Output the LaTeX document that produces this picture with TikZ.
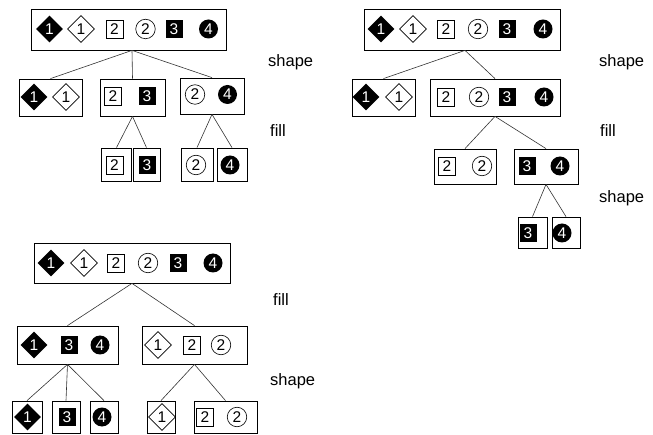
\documentclass[tikz,border=0pt]{standalone}
\usepackage{fontspec}
\setmainfont{Liberation Sans}
\usetikzlibrary{shapes.geometric,calc}
\tikzset{
 bx/.style={draw, line width=0.8pt, inner sep=0pt},
 sym/.style={inner sep=0pt, font=\fontsize{15.5}{15.5}\selectfont},
 bd/.style={sym, diamond, fill=black, text=white, minimum width=27pt, minimum height=27pt},
 wd/.style={sym, diamond, draw, line width=0.6pt, minimum width=27pt, minimum height=27pt},
 sq/.style={sym, rectangle, draw, line width=0.7pt, minimum width=17pt, minimum height=18pt},
 ci/.style={sym, circle, draw, line width=0.6pt, minimum size=19.5pt},
 bs/.style={sym, rectangle, fill=black, text=white, minimum width=17pt, minimum height=18pt},
 bc/.style={sym, circle, fill=black, text=white, minimum size=19pt},
 lbl/.style={anchor=base west, inner sep=0pt, font=\fontsize{16.5}{16.5}\selectfont},
 conn/.style={line width=0.6pt, black!80},
}
\begin{document}
\begin{tikzpicture}[x=1pt,y=-1pt]
\useasboundingbox (0,0) rectangle (653,435);

% ---------- Tree 1 ----------
\node[bx, minimum width=195pt, minimum height=41pt] (r1) at (128.5,29.5) {};
\node[bd] (r1a) at (49.5,29) {1};
\node[wd] (r1b) at (81,29) {1};
\node[sq] (r1c) at (114.5,29) {2};
\node[ci] (r1d) at (145.5,29) {2};
\node[bs] (r1e) at (174,29) {3};
\node[bc] (r1f) at (208.5,29) {4};

\node[bx, minimum width=63pt, minimum height=37pt] (c11) at (50.5,97.5) {};
\node[bd] (c11a) at (34,97) {1};
\node[wd] (c11b) at (66,97) {1};
\node[bx, minimum width=65pt, minimum height=37pt] (c12) at (132.5,97.5) {};
\node[sq] (c12a) at (113,96) {2};
\node[bs] (c12b) at (147,96) {3};
\node[bx, minimum width=64pt, minimum height=36pt] (c13) at (212,96) {};
\node[ci] (c13a) at (195,94.5) {2};
\node[bc] (c13b) at (227.5,94.5) {4};

\node[bx, minimum width=30pt, minimum height=33pt] (g121) at (116.5,164.5) {};
\node[sq] (g121a) at (114.5,165) {2};
\node[bx, minimum width=27pt, minimum height=33pt] (g122) at (146.5,164.5) {};
\node[bs] (g122a) at (147,165) {3};
\node[bx, minimum width=32pt, minimum height=33pt] (g131) at (197,164.5) {};
\node[ci] (g131a) at (196,165) {2};
\node[bx, minimum width=30pt, minimum height=33pt] (g132) at (232,164.5) {};
\node[bc] (g132a) at (230,165) {4};

\draw[conn] ($(r1.south)+(3.5,0)$) -- (c11.north);
\draw[conn] ($(r1.south)+(3.5,0)$) -- (c12.north);
\draw[conn] ($(r1.south)+(3.5,0)$) -- (c13.north);
\draw[conn] (c12.south) -- (g121.north);
\draw[conn] (c12.south) -- (g122.north);
\draw[conn] (c13.south) -- (g131.north);
\draw[conn] (c13.south) -- (g132.north);

\node[lbl] (l11) at (268,67) {shape};
\node[lbl] (l12) at (270,137) {fill};

% ---------- Tree 2 ----------
\node[bx, minimum width=196pt, minimum height=41pt] (r2) at (462,29.5) {};
\node[bd] (r2a) at (381,29) {1};
\node[wd] (r2b) at (413,29) {1};
\node[sq] (r2c) at (446,29) {2};
\node[ci] (r2d) at (478,29) {2};
\node[bs] (r2e) at (507,29) {3};
\node[bc] (r2f) at (543,29) {4};

\node[bx, minimum width=63pt, minimum height=37pt] (c21) at (383.5,97.5) {};
\node[bd] (c21a) at (366,97) {1};
\node[wd] (c21b) at (399,97) {1};
\node[bx, minimum width=130pt, minimum height=37pt] (c22) at (495,97.5) {};
\node[sq] (c22a) at (446,97) {2};
\node[ci] (c22b) at (479,97) {2};
\node[bs] (c22c) at (507,97) {3};
\node[bc] (c22d) at (544,97) {4};

\node[bx, minimum width=62pt, minimum height=35pt] (g221) at (465,166.5) {};
\node[sq] (g221a) at (447,166) {2};
\node[ci] (g221b) at (482,166) {2};
\node[bx, minimum width=64pt, minimum height=35pt] (g222) at (546,166.5) {};
\node[bs] (g222a) at (527,166) {3};
\node[bc] (g222b) at (560,166) {4};

\node[bx, minimum width=29pt, minimum height=31pt] (gg1) at (532.5,232.5) {};
\node[bs] (gg1a) at (528,233) {3};
\node[bx, minimum width=28pt, minimum height=31pt] (gg2) at (566,232.5) {};
\node[bc] (gg2a) at (562,233) {4};

\draw[conn] ($(r2.south)+(3,0)$) -- (c21.north);
\draw[conn] ($(r2.south)+(3,0)$) -- (c22.north);
\draw[conn] (c22.south) -- (g221.north);
\draw[conn] (c22.south) -- (g222.north);
\draw[conn] (g222.south) -- (gg1.north);
\draw[conn] (g222.south) -- (gg2.north);

\node[lbl] (l21) at (599,67) {shape};
\node[lbl] (l22) at (600,137) {fill};
\node[lbl] (l23) at (599,203) {shape};

% ---------- Tree 3 ----------
\node[bx, minimum width=196pt, minimum height=40pt] (r3) at (132,263) {};
\node[bd] (r3a) at (51,263) {1};
\node[wd] (r3b) at (84,263) {1};
\node[sq] (r3c) at (116,263) {2};
\node[ci] (r3d) at (148,263) {2};
\node[bs] (r3e) at (178,263) {3};
\node[bc] (r3f) at (213,263) {4};

\node[bx, minimum width=101pt, minimum height=38pt] (c31) at (67.5,345) {};
\node[bd] (c31a) at (34,345) {1};
\node[bs] (c31b) at (69,345) {3};
\node[bc] (c31c) at (100,345) {4};
\node[bx, minimum width=105pt, minimum height=38pt] (c32) at (194.5,345) {};
\node[wd] (c32a) at (158,345) {1};
\node[sq] (c32b) at (192,345) {2};
\node[ci] (c32c) at (221,345) {2};

\node[bx, minimum width=30pt, minimum height=32pt] (g311) at (27,417) {};
\node[bd] (g311a) at (27.5,417) {1};
\node[bx, minimum width=28pt, minimum height=32pt] (g312) at (66,417) {};
\node[bs] (g312a) at (67,417) {3};
\node[bx, minimum width=28pt, minimum height=32pt] (g313) at (104,417) {};
\node[bc] (g313a) at (102,417) {4};
\node[bx, minimum width=28pt, minimum height=32pt] (g321) at (161,417) {};
\node[wd] (g321a) at (162,417) {1};
\node[bx, minimum width=63pt, minimum height=32pt] (g322) at (225.5,417) {};
\node[sq] (g322a) at (205,417) {2};
\node[ci] (g322b) at (237,417) {2};

\draw[conn] (r3.south) -- (c31.north);
\draw[conn] (r3.south) -- (c32.north);
\draw[conn] (c31.south) -- (g311.north);
\draw[conn] (c31.south) -- (g312.north);
\draw[conn] (c31.south) -- (g313.north);
\draw[conn] (c32.south) -- (g321.north);
\draw[conn] (c32.south) -- (g322.north);

\node[lbl] (l31) at (273,306) {fill};
\node[lbl] (l32) at (270,385) {shape};
\end{tikzpicture}
\end{document}
